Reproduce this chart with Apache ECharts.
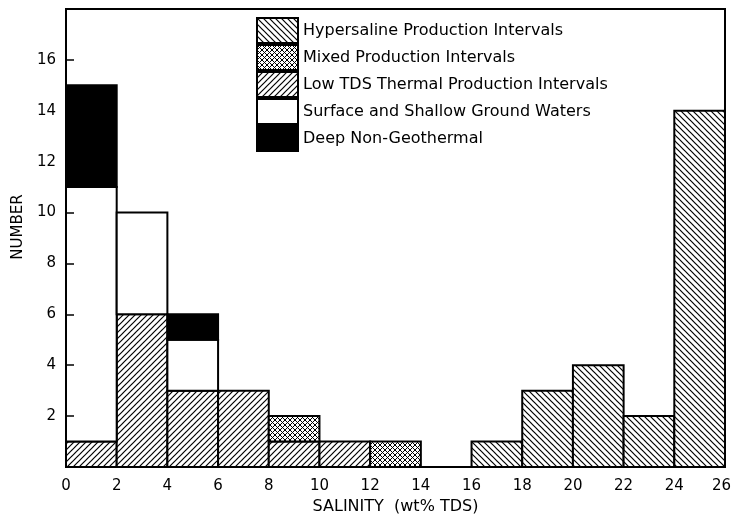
<!DOCTYPE html>
<html>
<head>
<meta charset="utf-8">
<script src="https://cdn.jsdelivr.net/npm/echarts@6/dist/echarts.min.js"></script>
<style>html,body{margin:0;padding:0;background:#fff}#c{width:732px;height:525px}</style>
</head>
<body>
<div id="c"></div>
<script>
// Salinity bin edges (wt% TDS), bins of width 2
const binStarts = [0, 2, 4, 6, 8, 10, 12, 14, 16, 18, 20, 22, 24];
const binWidth = 2;
const xTicks = [0, 2, 4, 6, 8, 10, 12, 14, 16, 18, 20, 22, 24, 26];
const yTicks = [2, 4, 6, 8, 10, 12, 14, 16];
// counts per bin, stacked bottom to top in this order
const lowTDS      = [1, 6, 3, 3, 1, 1, 0, 0, 0, 0, 0, 0, 0];
const mixed       = [0, 0, 0, 0, 1, 0, 1, 0, 0, 0, 0, 0, 0];
const surface     = [10, 4, 2, 0, 0, 0, 0, 0, 0, 0, 0, 0, 0];
const deep        = [4, 0, 1, 0, 0, 0, 0, 0, 0, 0, 0, 0, 0];
const hypersaline = [0, 0, 0, 0, 0, 0, 0, 0, 1, 3, 4, 2, 14];
const names = {
  hyper: 'Hypersaline Production Intervals',
  mixed: 'Mixed Production Intervals',
  low: 'Low TDS Thermal Production Intervals',
  surface: 'Surface and Shallow Ground Waters',
  deep: 'Deep Non-Geothermal'
};

function hatch(dir, size, lw) {
  const c = document.createElement('canvas');
  c.width = size; c.height = size;
  const g = c.getContext('2d');
  g.fillStyle = '#fff'; g.fillRect(0, 0, size, size);
  g.strokeStyle = '#000'; g.lineWidth = lw;
  const line = (x1, y1, x2, y2) => { g.beginPath(); g.moveTo(x1, y1); g.lineTo(x2, y2); g.stroke(); };
  if (dir === '/' || dir === 'x') {
    line(-1, size + 1, size + 1, -1);
    line(-1, 1, 1, -1);
    line(size - 1, size + 1, size + 1, size - 1);
  }
  if (dir === '\\' || dir === 'x') {
    line(-1, -1, size + 1, size + 1);
    line(size - 1, -1, size + 1, 1);
    line(-1, size - 1, 1, size + 1);
  }
  return { image: c, repeat: 'repeat' };
}

// build stacked segments [x0, x1, y0, y1]
const stackOrder = [
  { name: names.low, values: lowTDS, fill: hatch('/', 6, 1.2) },
  { name: names.mixed, values: mixed, fill: hatch('x', 5, 1) },
  { name: names.surface, values: surface, fill: '#ffffff' },
  { name: names.deep, values: deep, fill: '#000000' },
  { name: names.hyper, values: hypersaline, fill: hatch('\\', 6, 1.2) }
];
const base = binStarts.map(() => 0);
const series = stackOrder.map(s => {
  const data = [];
  s.values.forEach((v, i) => {
    if (v > 0) {
      data.push([binStarts[i], binStarts[i] + binWidth, base[i], base[i] + v]);
      base[i] += v;
    }
  });
  const fill = s.fill;
  return {
    name: s.name, type: 'custom', data: data,
    encode: { x: [0, 1], y: [2, 3] },
    itemStyle: { color: fill, borderColor: '#000', borderWidth: 2 },
    emphasis: { disabled: true },
    renderItem: (params, api) => {
      const p0 = api.coord([api.value(0), api.value(2)]);
      const p1 = api.coord([api.value(1), api.value(3)]);
      return {
        type: 'rect',
        shape: { x: p0[0], y: p1[1], width: p1[0] - p0[0], height: p0[1] - p1[1] },
        style: { fill: fill, stroke: '#000', lineWidth: 2 }
      };
    }
  };
});

const lastTick = xTicks[xTicks.length - 1];
const chart = echarts.init(document.getElementById('c'));
chart.setOption({
  animation: false,
  backgroundColor: '#fff',
  textStyle: { fontFamily: 'DejaVu Sans', color: '#000' },
  grid: { left: 66, right: 7, top: 9, bottom: 58, outerBoundsMode: 'none', containLabel: false,
    show: true, borderColor: '#000', borderWidth: 2, backgroundColor: 'transparent' },
  legend: {
    orient: 'vertical', left: 256, top: 17, padding: 0,
    itemWidth: 41, itemHeight: 25, itemGap: 0, icon: 'rect',
    selectedMode: false,
    textStyle: { fontSize: 16, lineHeight: 25, color: '#000', fontFamily: 'DejaVu Sans' },
    data: [names.hyper, names.mixed, names.low, names.surface, names.deep]
  },
  xAxis: {
    type: 'value', min: xTicks[0], max: lastTick, interval: 2, z: 10,
    axisLine: { show: true, onZero: false, lineStyle: { color: '#000', width: 2 } },
    axisTick: { show: false }, splitLine: { show: false },
    axisLabel: { fontSize: 15, color: '#000', margin: 12,
      formatter: v => (v === lastTick ? '{last|' + v + '}' : String(v)),
      rich: { last: { fontSize: 15, color: '#000', padding: [0, 7, 0, 0] } } },
    name: 'SALINITY  (wt% TDS)', nameLocation: 'middle', nameGap: 32,
    nameTextStyle: { fontSize: 16, color: '#000' }
  },
  yAxis: {
    type: 'value', min: 0, max: 18, interval: 2, z: 10,
    axisLine: { show: true, lineStyle: { color: '#000', width: 2 } },
    axisTick: { show: true, inside: true, length: 8, lineStyle: { color: '#000', width: 1.5 } },
    splitLine: { show: false },
    axisLabel: { fontSize: 15, color: '#000', margin: 10,
      formatter: v => (yTicks.indexOf(v) >= 0 ? String(v) : '') },
    name: 'NUMBER', nameLocation: 'middle', nameGap: 38,
    nameTextStyle: { fontSize: 15, color: '#000', padding: [0, 0, 0, 22] }
  },
  series: series
});
</script>
</body>
</html>
